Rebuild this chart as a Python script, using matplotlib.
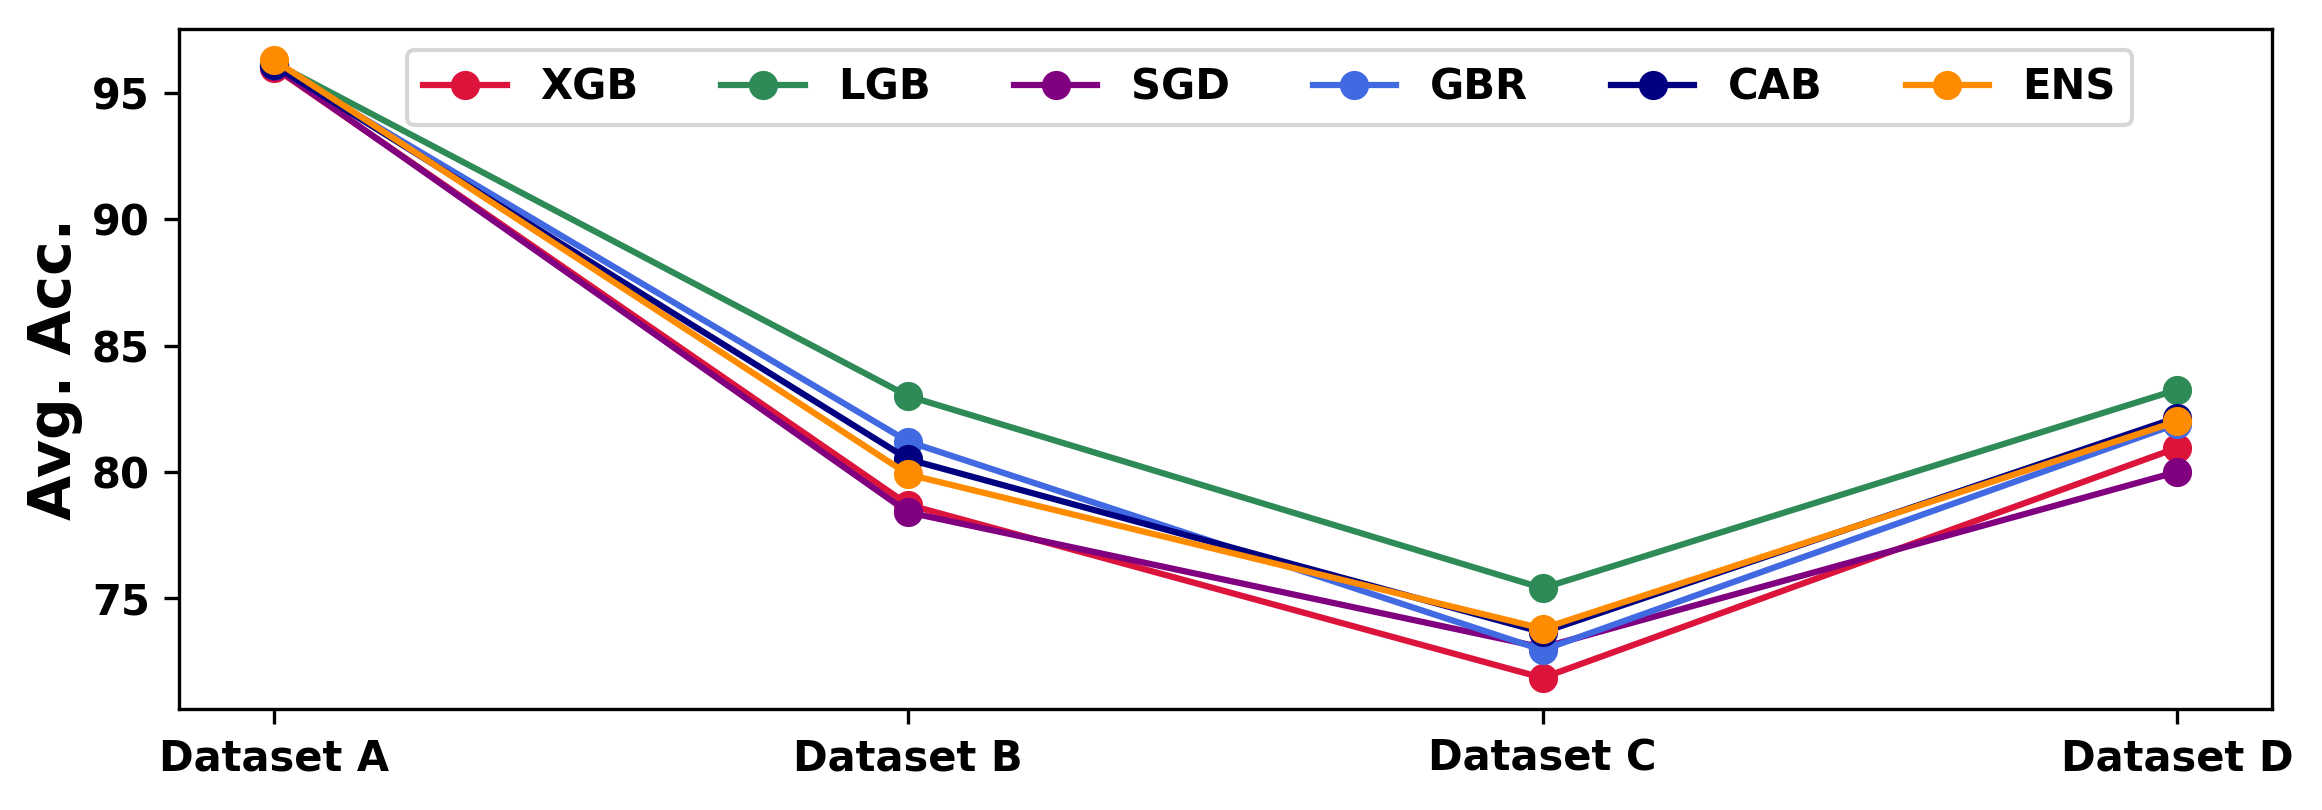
import matplotlib
matplotlib.use('Agg')
import matplotlib.pyplot as plt

# data
datasets = ['Dataset A', 'Dataset B', 'Dataset C', 'Dataset D']
xgb = [96.0, 78.7, 71.85, 80.95]
lgb = [96.2, 83.0, 75.4, 83.25]
sgd = [96.05, 78.4, 73.05, 80.0]
gbr = [96.1, 81.2, 72.95, 81.9]
cab = [96.1, 80.5, 73.65, 82.15]
ens = [96.3, 79.9, 73.8, 82.0]

models = ['XGB', 'LGB', 'SGD', 'GBR', 'CAB', 'ENS']
values = [xgb, lgb, sgd, gbr, cab, ens]
colors = ['crimson', 'seagreen', 'purple', 'royalblue', 'navy', 'darkorange']

fig, ax = plt.subplots(figsize=(7.74, 2.7), dpi=300)
x = range(len(datasets))
for name, vals, c in zip(models, values, colors):
    ax.plot(x, vals, marker='o', color=c, label=name, linewidth=1.5, markersize=6)

ax.set_xticks(list(x))
ax.set_xticklabels(datasets, fontsize=10, fontweight='bold')
ax.set_yticks([75, 80, 85, 90, 95])
for lbl in ax.get_yticklabels():
    lbl.set_fontweight('bold')
    lbl.set_fontsize(10)
ax.set_ylabel('Avg. Acc.', fontsize=14, fontweight='bold', labelpad=2)
ax.legend(loc='upper center', bbox_to_anchor=(0.521, 1.0), ncol=6,
          prop={'weight': 'bold', 'size': 10})

fig.subplots_adjust(left=0.077, right=0.9785, top=0.964, bottom=0.125)
plt.savefig('out.png', dpi=300)
